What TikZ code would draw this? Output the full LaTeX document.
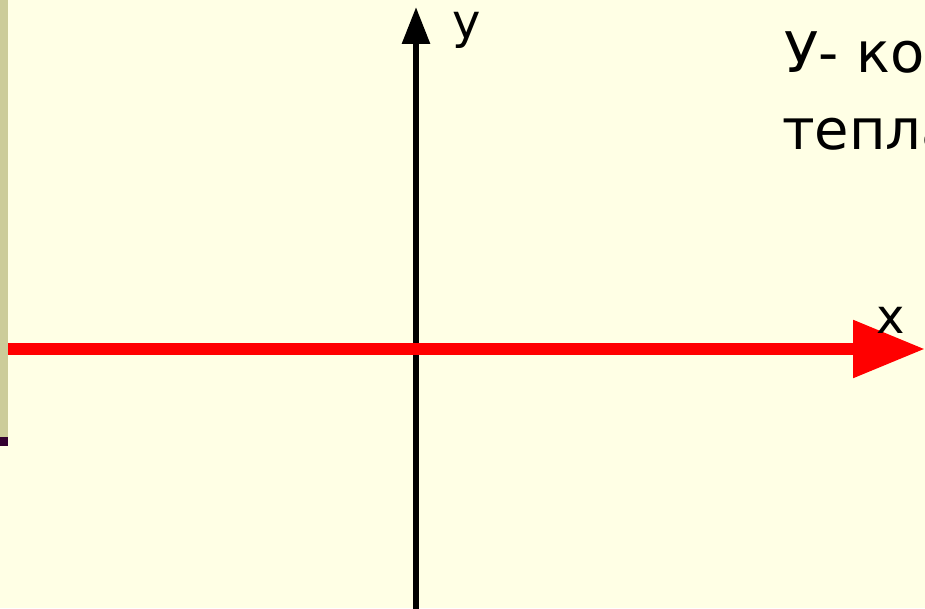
\documentclass[tikz,border=0pt]{standalone}
\usepackage{fontspec}
\setmainfont{DejaVu Sans}
\usetikzlibrary{arrows.meta}
\definecolor{bgyellow}{RGB}{255,255,229}
\definecolor{striptan}{RGB}{204,204,153}
\definecolor{darkplum}{RGB}{51,0,48}
\definecolor{axisred}{RGB}{255,0,0}
\tikzset{
  axislabel/.style={anchor=base west, inner sep=0pt, font=\fontsize{48}{56}\selectfont},
  bigtext/.style={anchor=base west, inner sep=0pt, font=\fontsize{56}{77}\selectfont},
  redaxis/.style={draw=axisred, line width=12pt, -{Triangle[length=72pt,width=55pt]}},
  blackaxis/.style={draw=black, line width=6pt, -{Triangle[length=37pt,width=27pt]}}
}
\begin{document}
\begin{tikzpicture}[x=1pt,y=1pt]
\useasboundingbox (0,0) rectangle (925,608);
\fill[bgyellow] (0,0) rectangle (925,608);
\fill[striptan] (0,170) rectangle (8,608);
\fill[darkplum] (0,162) rectangle (8,171);
% axes
\coordinate (yb) at (416,-5);
\coordinate (yt) at (416,601);
\coordinate (xs) at (8,259);
\coordinate (xe) at (925,259);
\draw[blackaxis] (yb) -- (yt);
\draw[redaxis] (xs) -- (xe);
% labels
\node[axislabel] (ylab) at (452,569) {y};
\node[axislabel] (xlab) at (876,274) {x};
\node[bigtext] (t1) at (784,535) {У- ко};
\node[bigtext] (t2) at (782,458) {тепла};
\end{tikzpicture}
\end{document}
